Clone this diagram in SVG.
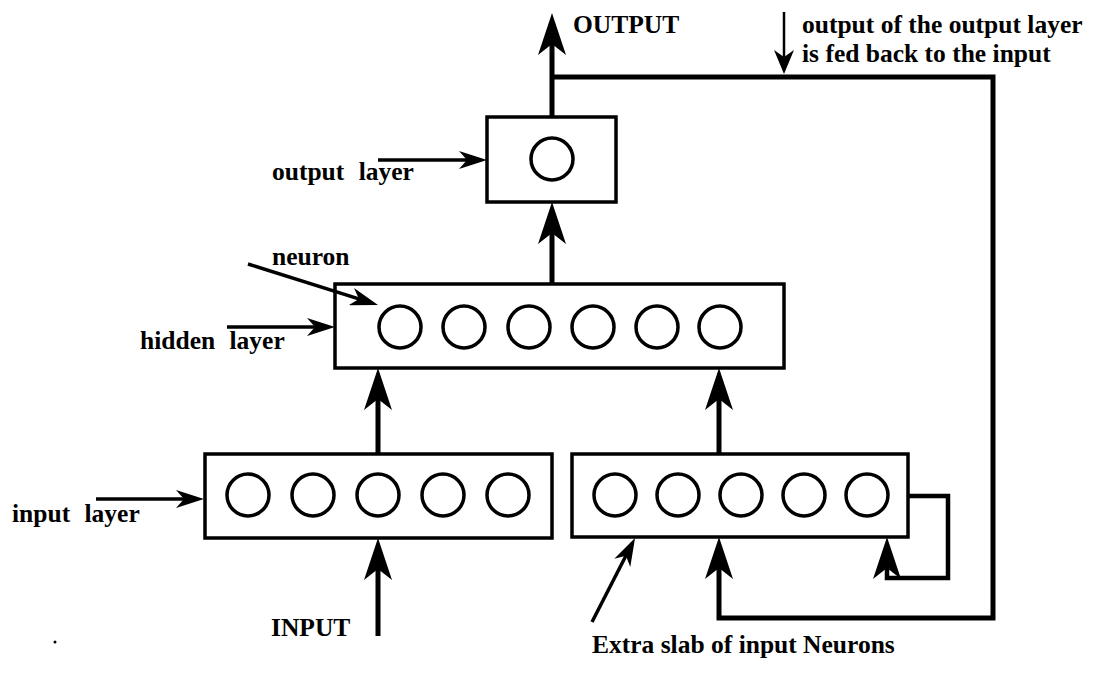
<svg xmlns="http://www.w3.org/2000/svg" width="1099" height="675" viewBox="0 0 1099 675">
<style>
.box{fill:none;stroke:#000;stroke-width:3.5}
.n{fill:none;stroke:#000;stroke-width:3.5}
.big{fill:none;stroke:#000;stroke-width:5;marker-end:url(#ah)}
.loop{fill:none;stroke:#000;stroke-width:4.5;marker-end:url(#ah)}
.ptr{fill:none;stroke:#000;stroke-width:3.5;marker-end:url(#as)}
.thin{fill:none;stroke:#000;stroke-width:2.5;marker-end:url(#at)}
text{font-family:"Liberation Serif","Times New Roman",serif;font-weight:bold;font-size:25.5px;fill:#000}
.lbl{word-spacing:8px}
</style>
<defs>
<marker id="ah" markerUnits="userSpaceOnUse" viewBox="0 0 42 28" markerWidth="42" markerHeight="28" refX="32" refY="14" orient="auto">
<path d="M42,14 L0,0 L11,14 L0,28 Z" fill="#000"/>
</marker>
<marker id="as" markerUnits="userSpaceOnUse" viewBox="0 0 28 18" markerWidth="28" markerHeight="18" refX="22" refY="9" orient="auto">
<path d="M28,9 L0,0 L8,9 L0,18 Z" fill="#000"/>
</marker>
<marker id="at" markerUnits="userSpaceOnUse" viewBox="0 0 24 20" markerWidth="24" markerHeight="20" refX="20" refY="10" orient="auto">
<path d="M24,10 L0,0 L7,10 L0,20 Z" fill="#000"/>
</marker>
</defs>
<rect width="1099" height="675" fill="#fff"/>

<g id="output-layer">
<rect class="box" x="487" y="117" width="129" height="85"/>
<circle class="n" cx="552" cy="159" r="21"/>
</g>

<g id="hidden-layer">
<rect class="box" x="335" y="284" width="449" height="84"/>
<circle class="n" cx="400" cy="327" r="21"/>
<circle class="n" cx="464" cy="327" r="21"/>
<circle class="n" cx="529" cy="327" r="21"/>
<circle class="n" cx="593" cy="327" r="21"/>
<circle class="n" cx="657" cy="327" r="21"/>
<circle class="n" cx="720" cy="327" r="21"/>
</g>

<g id="input-layer">
<rect class="box" x="205" y="454" width="347" height="84"/>
<circle class="n" cx="248" cy="495" r="21"/>
<circle class="n" cx="313" cy="495" r="21"/>
<circle class="n" cx="378" cy="495" r="21"/>
<circle class="n" cx="443" cy="495" r="21"/>
<circle class="n" cx="508" cy="495" r="21"/>
</g>

<g id="extra-slab">
<rect class="box" x="572" y="454" width="336" height="83"/>
<circle class="n" cx="615" cy="495" r="21"/>
<circle class="n" cx="678" cy="495" r="21"/>
<circle class="n" cx="741" cy="495" r="21"/>
<circle class="n" cx="804" cy="495" r="21"/>
<circle class="n" cx="867" cy="495" r="21"/>
</g>

<g id="connectors">
<path class="big" d="M552,117 V23"/>
<path class="big" d="M552,77 H993 V618 H719 V547"/>
<path class="big" d="M552,284 V212"/>
<path class="big" d="M378,454 V378"/>
<path class="big" d="M719,454 V378"/>
<path class="big" d="M378,636 V548"/>
<path class="loop" d="M908,496 H948 V578 H887 V547"/>
<path class="ptr" d="M378,160 H481"/>
<path class="ptr" d="M227,327 H329"/>
<path class="ptr" d="M96,499 H198"/>
<path class="ptr" d="M248,264 L372.3,303.2"/>
<path class="ptr" d="M592,622 L632.3,543.3"/>
<path class="thin" d="M784,12 V70"/>
</g>

<g id="labels">
<text x="573" y="33">OUTPUT</text>
<text x="802" y="33">output of the output layer</text>
<text x="802" y="62">is fed back to the input</text>
<text class="lbl" x="272" y="180">output layer</text>
<text x="272" y="265">neuron</text>
<text class="lbl" x="140" y="349">hidden layer</text>
<text class="lbl" x="12" y="522">input layer</text>
<text x="271" y="636">INPUT</text>
<text x="592" y="653">Extra slab of input Neurons</text>
</g>
<circle cx="55" cy="642" r="1.5" fill="#000"/>
</svg>
